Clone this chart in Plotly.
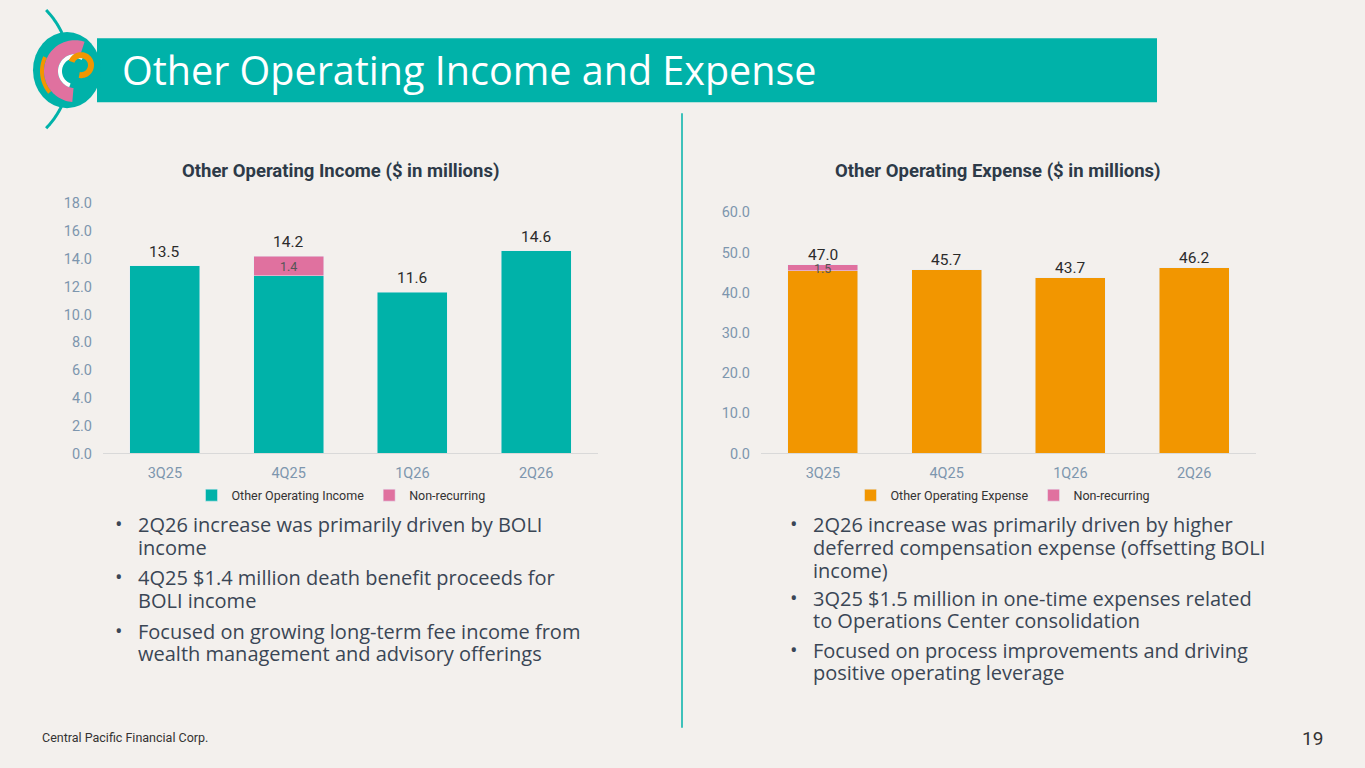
import numpy as np
import plotly.graph_objects as go

W, H = 1365, 768

TEAL = "#00B2A9"
PINK = "#E0719F"
ORANGE = "#F29600"
BG = "#F3F0ED"
TEXT = "#3A4655"
TICK = "#7D96AE"
FONT = "Roboto"

quarters = ["3Q25", "4Q25", "1Q26", "2Q26"]

income_recurring = [13.5, 12.8, 11.6, 14.6]
income_nonrecurring = [None, 1.4, None, None]
income_total = [13.5, 14.2, 11.6, 14.6]

expense_recurring = [45.5, 45.7, 43.7, 46.2]
expense_nonrecurring = [1.5, None, None, None]
expense_total = [47.0, 45.7, 43.7, 46.2]

income_ticks = [0, 2, 4, 6, 8, 10, 12, 14, 16, 18]
expense_ticks = [0, 10, 20, 30, 40, 50, 60]

income_bullets = [
    ["2Q26 increase was primarily driven by BOLI", "income"],
    ["4Q25 $1.4 million death benefit proceeds for", "BOLI income"],
    ["Focused on growing long-term fee income from", "wealth management and advisory offerings"],
]
expense_bullets = [
    ["2Q26 increase was primarily driven by higher",
     "deferred compensation expense (offsetting BOLI", "income)"],
    ["3Q25 $1.5 million in one-time expenses related", "to Operations Center consolidation"],
    ["Focused on process improvements and driving", "positive operating leverage"],
]

# the photographed page comes out slightly squashed vertically; undo that here
Y_SCALE, Y_OFFSET = 0.977, 7.9


def px(x):
    return x / W


def py(y):
    return 1 - ((y - Y_OFFSET) / Y_SCALE) / H


def poly_path(pts, close=True):
    s = "M " + " L ".join(f"{px(x):.5f},{py(y):.5f}" for x, y in pts)
    return s + (" Z" if close else "")


def ring(cx, cy, r_out, r_in, a0, a1, n=60):
    a = np.radians(np.linspace(a0, a1, n))
    outer = [(cx + r_out * np.cos(t), cy + r_out * np.sin(t)) for t in a]
    inner = [(cx + r_in * np.cos(t), cy + r_in * np.sin(t)) for t in a[::-1]]
    return poly_path(outer + inner)


def arc(cx, cy, r, a0, a1, n=30):
    a = np.radians(np.linspace(a0, a1, n))
    return poly_path([(cx + r * np.cos(t), cy + r * np.sin(t)) for t in a], close=False)


def note(text, x, y, size, color, family=FONT, xanchor="left", yanchor="middle", **kw):
    return dict(text=text, x=px(x), y=py(y), xref="paper", yref="paper", xanchor=xanchor,
                yanchor=yanchor, showarrow=False, font=dict(size=size, color=color, family=family),
                **kw)


fig = go.Figure()

# left chart: other operating income
fig.add_trace(go.Bar(
    x=quarters, y=income_recurring, name="Other Operating Income",
    marker_color=TEAL, xaxis="x", yaxis="y", legend="legend",
))
fig.add_trace(go.Bar(
    x=quarters, y=income_nonrecurring, name="Non-recurring",
    marker_color=PINK, xaxis="x", yaxis="y", legend="legend",
))

# right chart: other operating expense
fig.add_trace(go.Bar(
    x=quarters, y=expense_recurring, name="Other Operating Expense",
    marker_color=ORANGE, xaxis="x2", yaxis="y2", legend="legend2",
))
fig.add_trace(go.Bar(
    x=quarters, y=expense_nonrecurring, name="Non-recurring",
    marker_color=PINK, xaxis="x2", yaxis="y2", legend="legend2",
))

xaxis_style = dict(
    showgrid=False, showline=True, linecolor="#D9D9D9", linewidth=1,
    tickfont=dict(size=14.5, color=TICK, family=FONT), ticks="", fixedrange=True,
    range=[-0.5, 3.5], ticklabelstandoff=6,
)
yaxis_style = dict(
    showgrid=False, showline=False, zeroline=False, tickformat=".1f",
    tickfont=dict(size=14.5, color=TICK, family=FONT), ticks="", fixedrange=True,
    ticklabelstandoff=10,
)

legend_style = dict(
    orientation="h", xanchor="center", yanchor="middle", y=py(495),
    font=dict(size=12.5, color="#333333", family=FONT), bgcolor="rgba(0,0,0,0)",
    itemwidth=30, traceorder="normal",
)

shapes = [
    # title bar
    dict(type="rect", xref="paper", yref="paper", x0=px(97), x1=px(1157), y0=py(102), y1=py(38),
         fillcolor=TEAL, line_width=0),
    # divider
    dict(type="line", xref="paper", yref="paper", x0=px(682), x1=px(682), y0=py(113), y1=py(727),
         line=dict(color=TEAL, width=1.5)),
    # logo
    dict(type="path", xref="paper", yref="paper", path=arc(-15, 69, 85, -44, -25),
         line=dict(color=TEAL, width=3)),
    dict(type="path", xref="paper", yref="paper", path=arc(-15, 69, 85, 25, 44),
         line=dict(color=TEAL, width=3)),
    dict(type="circle", xref="paper", yref="paper", x0=px(33), x1=px(101), y0=py(108), y1=py(32),
         fillcolor=TEAL, line_width=0),
    dict(type="path", xref="paper", yref="paper", path=ring(75, 71, 35, 31, 140, 205),
         fillcolor=ORANGE, line_width=0),
    dict(type="path", xref="paper", yref="paper", path=ring(75, 71, 31, 17, -72, -265),
         fillcolor=PINK, line_width=0),
    dict(type="path", xref="paper", yref="paper", path=ring(75, 71, 17, 13, -60, -250),
         fillcolor="white", line_width=0),
    dict(type="path", xref="paper", yref="paper", path=ring(81, 65, 13, 7, -160, 100),
         fillcolor=ORANGE, line_width=0),
]

annotations = [
    note("Other Operating Income and Expense", 120, 70, 39.5, "white", family="Open Sans"),
    note("<b>Other Operating Income ($ in millions)</b>", 340, 171, 18.5, "#2D3A48",
         xanchor="center"),
    note("<b>Other Operating Expense ($ in millions)</b>", 998, 171, 18.5, "#2D3A48",
         xanchor="center"),
    note("Central Pacific Financial Corp.", 40, 737, 12.5, "#333333"),
    note("19", 1325, 738, 19, "#333333", xanchor="right"),
]

# value labels above the stacks and inside the non-recurring segments
for xref, yref, totals, rec, nonrec, shift in [
    ("x", "y", income_total, income_recurring, income_nonrecurring, 14),
    ("x2", "y2", expense_total, expense_recurring, expense_nonrecurring, 10),
]:
    for q, t, r, n in zip(quarters, totals, rec, nonrec):
        annotations.append(dict(text=f"{t:.1f}", x=q, y=t, xref=xref, yref=yref, yshift=shift,
                                showarrow=False, yanchor="middle",
                                font=dict(size=15.5, color="#2B2B2B", family=FONT)))
        if n:
            annotations.append(dict(text=f"{n:.1f}", x=q, y=r + n / 2, xref=xref, yref=yref,
                                    yshift=-1, showarrow=False, yanchor="middle",
                                    font=dict(size=12.5, color="#555555", family=FONT)))


def add_bullets(items, x_dot, x_text, line_ys):
    for lines, ys in zip(items, line_ys):
        annotations.append(note("•", x_dot, ys[0] - 2, 20, TEXT, family="Open Sans"))
        for line, y in zip(lines, ys):
            annotations.append(note(line, x_text, y - 1, 20, TEXT, family="Open Sans"))


add_bullets(income_bullets, 113, 136, [[525, 548], [578, 601], [632, 654]])
add_bullets(expense_bullets, 788, 811, [[525, 548, 571], [599, 621], [651, 673]])

fig.update_layout(
    width=W, height=H,
    margin=dict(l=0, r=0, t=0, b=0),
    paper_bgcolor=BG, plot_bgcolor="rgba(0,0,0,0)",
    barmode="stack", bargap=0.434,
    showlegend=True,
    xaxis=dict(domain=[px(103), px(598)], anchor="y", **xaxis_style),
    yaxis=dict(domain=[py(453), py(203)], anchor="x", range=[0, 18], tickvals=income_ticks,
               **yaxis_style),
    xaxis2=dict(domain=[px(761), px(1256)], anchor="y2", **xaxis_style),
    yaxis2=dict(domain=[py(453), py(212)], anchor="x2", range=[0, 60], tickvals=expense_ticks,
                **yaxis_style),
    legend=dict(x=px(341), **legend_style),
    legend2=dict(x=px(1003), **legend_style),
    shapes=shapes,
    annotations=annotations,
)

fig.write_html(
    "out.html",
    config={"displayModeBar": False},
    post_script=(
        "document.body.style.margin = '0';"
        f"document.body.style.background = '{BG}';"
        "document.documentElement.style.overflow = 'hidden';"
    ),
)
